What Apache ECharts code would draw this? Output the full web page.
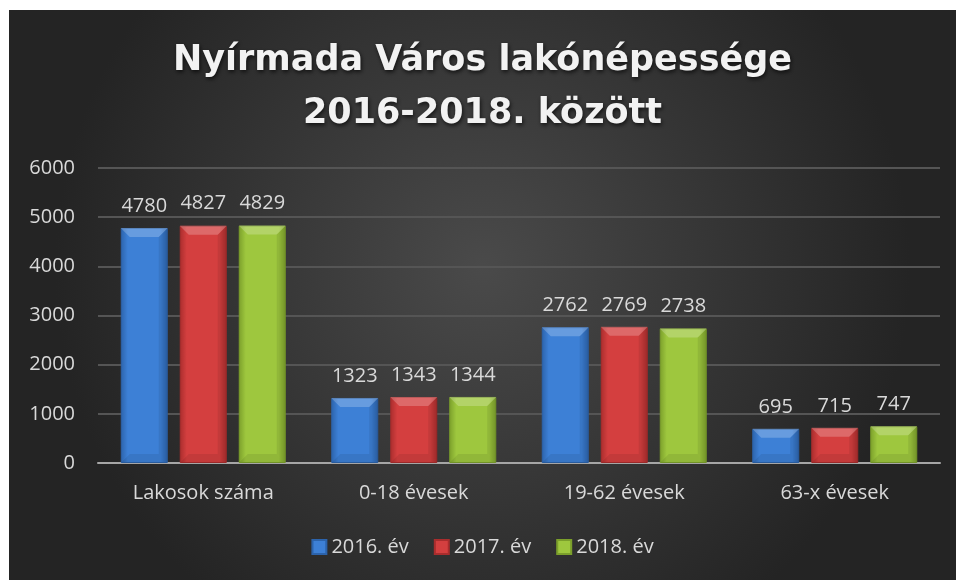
<!DOCTYPE html>
<html lang="hu" style="height: 100%">
<head>
  <meta charset="utf-8">
</head>
<body style="height: 100%; margin: 0; background: #fff">
  <div id="container" style="position: absolute; left: 9px; top: 10px; width: 947px; height: 570px"></div>

  <script type="text/javascript" src="https://fastly.jsdelivr.net/npm/echarts@6/dist/echarts.min.js"></script>

  <script type="text/javascript">
    var categories = ['Lakosok száma', '0-18 évesek', '19-62 évesek', '63-x évesek'];
    var years = ['2016. év', '2017. év', '2018. év'];
    var values2016 = [4780, 1323, 2762, 695];
    var values2017 = [4827, 1343, 2769, 715];
    var values2018 = [4829, 1344, 2738, 747];
    var yTicks = { min: 0, max: 6000, interval: 1000 };

    var dom = document.getElementById('container');
    var myChart = echarts.init(dom, null, { renderer: 'canvas' });

    var FONT = '"Open Sans", sans-serif';
    var TEXT = '#d9d9d9';
    var BAR_W = 47;
    var BAR_STEP = 59;
    var colors = [
      ['#2c63ab', '#3d80d6'],
      ['#a92d2d', '#d43f3f'],
      ['#7b9f2b', '#9ec73e']
    ];
    var seriesValues = [values2016, values2017, values2018];

    function barFill(c) {
      return new echarts.graphic.LinearGradient(0, 0, 1, 0, [
        { offset: 0, color: c[0] },
        { offset: 0.15, color: c[1] },
        { offset: 0.85, color: c[1] },
        { offset: 1, color: c[0] }
      ]);
    }

    // bevel drawn on top of each bar
    function bevel(idx) {
      return function (params, api) {
        var base = api.coord([api.value(0), 0]);
        var top = api.coord([api.value(0), api.value(1)]);
        var x0 = base[0] + (idx - 1) * BAR_STEP - BAR_W / 2;
        var x1 = x0 + BAR_W;
        var y0 = top[1];
        var y1 = base[1];
        var b = Math.min(9, (y1 - y0) / 2);
        return {
          type: 'group',
          children: [
            { type: 'polygon', shape: { points: [[x0, y0], [x1, y0], [x1 - b, y0 + b], [x0 + b, y0 + b]] },
              style: { fill: 'rgba(255,255,255,0.22)' } },
            { type: 'polygon', shape: { points: [[x1, y0], [x1 - b, y0 + b], [x1 - b, y1 - b], [x1, y1]] },
              style: { fill: 'rgba(0,0,0,0.08)' } },
            { type: 'polygon', shape: { points: [[x0, y1], [x0 + b, y1 - b], [x1 - b, y1 - b], [x1, y1]] },
              style: { fill: 'rgba(0,0,0,0.08)' } }
          ]
        };
      };
    }

    var series = [];
    years.forEach(function (name, i) {
      series.push({
        name: name,
        type: 'bar',
        barWidth: BAR_W,
        barGap: ((BAR_STEP - BAR_W) / BAR_W * 100) + '%',
        data: seriesValues[i],
        itemStyle: { color: barFill(colors[i]), borderColor: colors[i][0], borderWidth: 1 },
        label: {
          show: true,
          position: 'top',
          distance: 12,
          color: TEXT,
          fontFamily: FONT,
          fontSize: 20
        }
      });
    });
    years.forEach(function (name, i) {
      series.push({
        type: 'custom',
        silent: true,
        renderItem: bevel(i),
        data: seriesValues[i].map(function (v, j) { return [j, v]; }),
        z: 3
      });
    });

    var option = {
      backgroundColor: new echarts.graphic.RadialGradient(0.5, 0.45, 0.75, [
        { offset: 0, color: '#4a4a4a' },
        { offset: 1, color: '#242424' }
      ]),
      title: {
        text: 'Nyírmada Város lakónépessége\n2016-2018. között',
        left: 'center',
        top: 19,
        textStyle: {
          color: '#f2f2f2',
          fontFamily: '"DejaVu Sans", sans-serif',
          fontWeight: 'bold',
          fontSize: 35,
          lineHeight: 53,
          textShadowColor: 'rgba(0,0,0,0.7)',
          textShadowBlur: 4,
          textShadowOffsetX: 1,
          textShadowOffsetY: 2
        }
      },
      legend: {
        data: years,
        bottom: 18,
        left: 'center',
        itemWidth: 14,
        itemHeight: 14,
        itemGap: 25,
        icon: 'rect',
        textStyle: { color: TEXT, fontFamily: FONT, fontSize: 20 }
      },
      grid: { left: 89, right: 16, top: 158, bottom: 117 },
      xAxis: {
        type: 'category',
        data: categories,
        axisLine: { lineStyle: { color: '#a6a6a6', width: 2 } },
        axisTick: { show: false },
        axisLabel: { color: TEXT, fontFamily: FONT, fontSize: 20, margin: 20 }
      },
      yAxis: {
        type: 'value',
        min: yTicks.min,
        max: yTicks.max,
        interval: yTicks.interval,
        axisLine: { show: false },
        axisTick: { show: false },
        splitLine: { lineStyle: { color: '#555555', width: 2 } },
        axisLabel: {
          color: TEXT, fontFamily: FONT, fontSize: 20, margin: 23,
          formatter: function (v) { return String(v); }
        }
      },
      series: series
    };

    myChart.setOption(option);
    window.addEventListener('resize', myChart.resize);
  </script>
</body>
</html>
